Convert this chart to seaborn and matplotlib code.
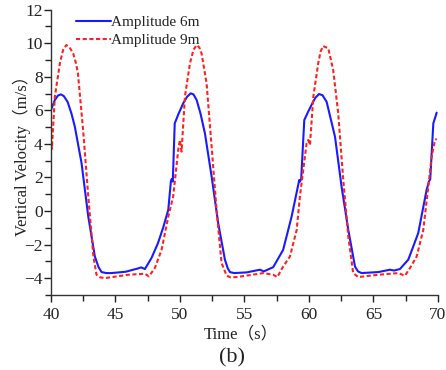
import numpy as np
import pandas as pd
import seaborn as sns
import matplotlib.pyplot as plt
from matplotlib.ticker import MultipleLocator

# Amplitude 6m (blue solid)
t_6m = [40.0, 40.3, 40.55, 40.78, 41.0, 41.3, 41.6, 41.86, 42.38, 42.9, 43.41, 43.7, 43.93, 44.3,
        44.7, 45.8, 46.77, 47.0, 47.29, 47.8, 48.3, 48.7, 49.1, 49.3, 49.36, 49.45, 49.6, 49.9,
        50.26, 50.55, 50.83, 51.05, 51.3, 51.6, 51.94, 52.46, 52.97, 53.49, 53.7, 53.88, 54.2,
        55.17, 56.2, 56.5, 57.23, 58.0, 58.66, 59.25, 59.3, 59.4, 59.64, 59.9, 60.2, 60.5, 60.78,
        61.05, 61.37, 62.02, 62.53, 63.05, 63.57, 63.8, 64.08, 65.37, 66.28, 66.6, 67.05, 67.7,
        68.47, 69.12, 69.3, 69.4, 69.64, 69.9]
v_6m = [6.0, 6.6, 6.88, 6.95, 6.85, 6.5, 5.8, 5.02, 2.85, -0.33, -2.71, -3.35, -3.64, -3.7,
        -3.7, -3.62, -3.42, -3.36, -3.46, -2.8, -1.92, -1.0, 0.07, 1.75, 1.9, 1.75, 5.22, 5.8,
        6.42, 6.8, 7.01, 6.95, 6.61, 5.8, 4.63, 2.05, -0.73, -2.9, -3.4, -3.64, -3.7,
        -3.66, -3.5, -3.6, -3.35, -2.32, -0.33, 1.85, 1.75, 1.9, 5.42, 5.85, 6.32, 6.75, 6.97,
        6.9, 6.51, 4.43, 1.45, -1.13, -3.31, -3.6, -3.7, -3.64, -3.5, -3.55, -3.46, -2.9,
        -1.32, 1.26, 1.75, 1.9, 5.22, 5.86]

# Amplitude 9m (red dashed)
t_9m = [40.0, 40.08, 40.31, 40.7, 40.95, 41.2, 41.45, 41.73, 41.95, 42.1, 42.5, 42.9, 43.3, 43.54,
        43.8, 44.19, 45.99, 47.29, 47.6, 48.06, 48.58, 49.1, 49.48, 49.87, 50.0, 50.13, 50.39,
        50.78, 51.05, 51.3, 51.5, 51.68, 52.07, 52.46, 52.84, 53.23, 53.62, 53.9, 54.4, 56.46,
        57.23, 57.55, 58.0, 58.53, 59.05, 59.3, 59.82, 59.95, 60.08, 60.34, 60.72, 60.9, 61.1,
        61.5, 61.88, 62.27, 62.66, 63.05, 63.43, 63.82, 65.37, 66.92, 67.44, 67.83, 68.35, 68.86,
        69.25, 69.51, 69.77, 69.9]
v_9m = [4.3, 3.7, 6.81, 8.8, 9.6, 9.89, 9.75, 9.39, 8.8, 8.2, 4.83, 0.86, -2.71, -3.8,
        -3.95, -4.0, -3.8, -3.74, -3.9, -3.4, -2.32, -0.33, 0.86, 3.64, 4.23, 3.54, 6.81,
        8.8, 9.6, 9.89, 9.75, 9.39, 7.6, 3.83, 0.07, -3.1, -3.85, -3.95, -3.94, -3.7,
        -3.8, -3.94, -3.31, -2.71, -1.13, 0.86, 4.04, 4.23, 3.93, 6.81, 8.8, 9.5, 9.83,
        9.69, 8.4, 5.82, 1.85, -1.52, -3.7, -3.94, -3.8, -3.7, -3.86, -3.4, -2.71, -1.13,
        1.45, 3.24, 4.23, 4.3]

labels = ["Amplitude 6m", "Amplitude 9m"]

df = pd.concat([
    pd.DataFrame({"time": t_6m, "vel": v_6m, "series": labels[0]}),
    pd.DataFrame({"time": t_9m, "vel": v_9m, "series": labels[1]}),
])

sns.set_theme(style="ticks")
serif = ["Liberation Serif", "Noto Sans CJK SC", "DejaVu Sans"]
plt.rcParams["font.family"] = serif

fig = plt.figure(figsize=(4.46, 3.70), dpi=100)
ax = fig.add_axes([0.114, 0.203, 0.868, 0.771])

sns.lineplot(data=df, x="time", y="vel", hue="series", style="series", sort=False,
             palette={labels[0]: "#1a1aff", labels[1]: "#ff2020"},
             dashes={labels[0]: "", labels[1]: (2, 1.2)},
             linewidth=1.5, ax=ax, estimator=None)

ax.set_xlim(40, 70)
ax.set_ylim(-5, 12)
ax.xaxis.set_major_locator(MultipleLocator(5))
ax.xaxis.set_minor_locator(MultipleLocator(2.5))
ax.yaxis.set_major_locator(MultipleLocator(2))
ax.yaxis.set_minor_locator(MultipleLocator(1))
ax.tick_params(which="major", direction="out", length=5, width=1, labelsize=12.5, colors="#222222")
ax.tick_params(axis="y", which="major", pad=1)
ax.tick_params(which="minor", direction="out", length=4, width=1, colors="#222222")
sns.despine(ax=ax)
for s in ["left", "bottom"]:
    ax.spines[s].set_color("#333333")
    ax.spines[s].set_linewidth(1)

ax.set_xlabel("Time（s）", fontsize=12, color="#222222")
ax.set_ylabel("Vertical Velocity（m/s）", fontsize=12, color="#222222")
ax.xaxis.set_label_coords(0.49, -0.11)
ax.yaxis.set_label_coords(-0.05, 0.5)

leg = ax.legend(loc="upper left", frameon=False, fontsize=11, handlelength=2.3,
                handletextpad=0.0, labelspacing=0.25, borderaxespad=0.0,
                bbox_to_anchor=(0.05, 1.0))
for txt in leg.get_texts():
    txt.set_color("#222222")

fig.text(0.52, 0.032, "(b)", ha="center", va="center", fontsize=16, color="#222222")

fig.savefig("out.png", dpi=100)
